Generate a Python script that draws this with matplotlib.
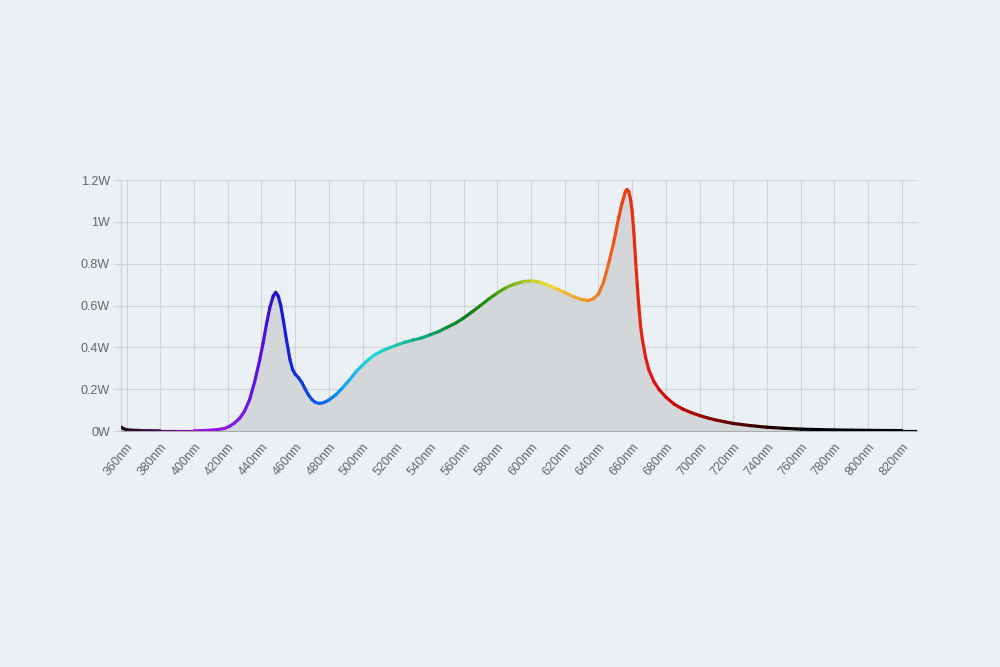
import numpy as np
import matplotlib
matplotlib.use("Agg")
import matplotlib.pyplot as plt
from matplotlib.collections import LineCollection
from matplotlib.colors import LinearSegmentedColormap, Normalize

plt.rcParams['font.family'] = ['Liberation Sans', 'DejaVu Sans']

# spectrum (wavelength in nm, power in W)
wavelength = [357, 358, 360, 363, 366, 370, 380, 390, 400, 405, 410, 414, 418, 421,
              424, 427, 430, 433, 436, 439, 441, 443, 445, 447, 448.5, 450, 451.5,
              453, 455, 457, 458.5, 460, 462, 464, 466, 468, 470, 472, 474.5, 477,
              480, 484, 488, 492, 496, 500, 504, 508, 512, 516, 520, 525, 530, 535,
              540, 545, 550, 555, 560, 565, 570, 575, 580, 585, 590, 595, 600, 605,
              610, 615, 620, 625, 630, 634, 637, 640, 643, 646, 649, 652, 654, 656,
              657, 658, 659, 660, 661, 662, 663, 664, 665, 666, 668, 670, 673, 676,
              680, 685, 690, 695, 700, 705, 710, 715, 720, 730, 740, 750, 760, 770,
              780, 790, 800, 810, 820, 829]
power = [0.018, 0.012, 0.006, 0.004, 0.003, 0.002, 0.001, 0.001, 0.001, 0.002, 0.004,
         0.007, 0.012, 0.022, 0.038, 0.060, 0.095, 0.150, 0.235, 0.34, 0.42, 0.51,
         0.59, 0.645, 0.663, 0.645, 0.60, 0.53, 0.43, 0.34, 0.295, 0.272, 0.255,
         0.232, 0.200, 0.172, 0.150, 0.137, 0.132, 0.136, 0.148, 0.172, 0.205,
         0.242, 0.282, 0.315, 0.345, 0.368, 0.385, 0.398, 0.410, 0.424, 0.435,
         0.445, 0.46, 0.475, 0.495, 0.515, 0.54, 0.57, 0.60, 0.632, 0.66, 0.685,
         0.702, 0.714, 0.718, 0.712, 0.698, 0.681, 0.662, 0.643, 0.628, 0.624,
         0.632, 0.655, 0.71, 0.80, 0.90, 1.02, 1.09, 1.145, 1.155, 1.145, 1.11,
         1.05, 0.95, 0.82, 0.70, 0.59, 0.50, 0.44, 0.35, 0.29, 0.235, 0.198,
         0.162, 0.128, 0.105, 0.088, 0.074, 0.062, 0.052, 0.044, 0.036, 0.026,
         0.018, 0.013, 0.009, 0.007, 0.005, 0.004, 0.003, 0.0025, 0.002, 0.002]

x_ticks = list(range(360, 821, 20))
x_labels = [f"{t}nm" for t in x_ticks]
y_ticks = [0, 0.2, 0.4, 0.6, 0.8, 1.0, 1.2]
y_labels = ["0W", "0.2W", "0.4W", "0.6W", "0.8W", "1W", "1.2W"]

# colour along the line by wavelength
stops = [(357, "#1a0a1a"), (380, "#500a60"), (400, "#a010d0"), (420, "#8a18f0"),
         (440, "#5a10e0"), (448, "#2010d0"), (460, "#1030d8"), (475, "#1060e8"),
         (490, "#10a8f0"), (505, "#20d8e0"), (520, "#20c8b0"), (535, "#10a880"),
         (550, "#0a9040"), (565, "#0a7a10"), (580, "#40a010"), (595, "#a0c020"),
         (610, "#f0e030"), (625, "#f0b030"), (640, "#f08020"), (650, "#f05018"),
         (660, "#e83010"), (675, "#e01010"), (700, "#a00000"), (730, "#400000"),
         (760, "#000000"), (829, "#000000")]
lo, hi = stops[0][0], stops[-1][0]
cmap = LinearSegmentedColormap.from_list(
    "spec", [((w - lo) / (hi - lo), c) for w, c in stops])

bg = "#ebf0f4"
grid_c = "#cfd4d9"
fig = plt.figure(figsize=(10, 6.67), dpi=100, facecolor=bg)
ax = fig.add_axes([0.121, 0.3538, 0.796, 0.3763], facecolor=bg)

wl = np.array(wavelength)
pw = np.array(power)
ax.fill_between(wl, 0, pw, color="#d3d7da", zorder=2, linewidth=0)

pts = np.column_stack([wl, pw]).reshape(-1, 1, 2)
segs = np.concatenate([pts[:-1], pts[1:]], axis=1)
lc = LineCollection(segs, cmap=cmap, norm=Normalize(lo, hi), linewidth=2.3,
                    capstyle="round", joinstyle="round", zorder=3)
lc.set_array((wl[:-1] + wl[1:]) / 2)
ax.add_collection(lc)

ax.set_xlim(356.7, 829)
ax.set_ylim(0, 1.2)
ax.set_xticks(x_ticks)
ax.set_xticklabels(x_labels, rotation=50, ha="right", va="top",
                   rotation_mode="anchor", fontsize=9, color="#666666")
ax.set_yticks(y_ticks)
ax.set_yticklabels(y_labels, fontsize=9, color="#666666")
ax.tick_params(axis="x", length=0, pad=7)
ax.tick_params(axis="y", length=6, color=grid_c, pad=2)
ax.grid(True, color=grid_c, linewidth=0.8, zorder=1)
ax.set_axisbelow(True)
for s in ["top", "right"]:
    ax.spines[s].set_visible(False)
ax.spines["left"].set_color(grid_c)
ax.spines["bottom"].set_color("#a8acb0")

fig.savefig("out.png", dpi=100, facecolor=bg)
